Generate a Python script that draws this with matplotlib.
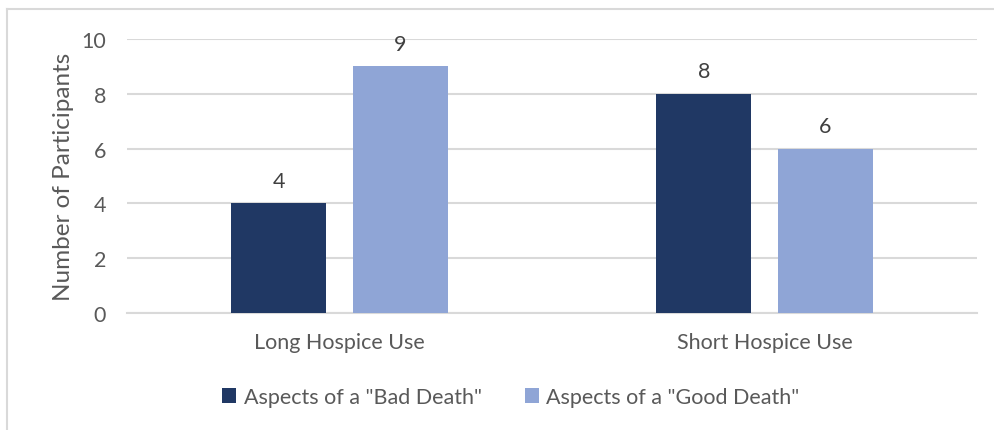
import numpy as np
import matplotlib.pyplot as plt
from matplotlib.lines import Line2D
from matplotlib.patches import Patch

categories = ["Long Hospice Use", "Short Hospice Use"]
series_names = ['Aspects of a "Bad Death"', 'Aspects of a "Good Death"']
bad_death = [4, 8]
good_death = [9, 6]
y_ticks = [0, 2, 4, 6, 8, 10]

dark = "#203864"
light = "#8FA5D6"
txt = "#595959"
grid = "#D9D9D9"

plt.rcParams['font.family'] = ['Lato', 'DejaVu Sans']
fs = 15.5

W, H = 995, 431
fig = plt.figure(figsize=(W / 100, H / 100), dpi=100)
ax = fig.add_axes([127 / W, 1 - 314 / H, 850 / W, 274 / H])

xs = np.arange(len(categories))
bw = 0.2235
off = 0.1424
b1 = ax.bar(xs - off, bad_death, bw, color=dark, zorder=3)
b2 = ax.bar(xs + off, good_death, bw, color=light, zorder=3)

for bars, vals in ((b1, bad_death), (b2, good_death)):
    for b, v in zip(bars, vals):
        ax.annotate(str(v), (b.get_x() + b.get_width() / 2, v),
                    xytext=(0, 9), textcoords="offset points",
                    ha="center", va="bottom", fontsize=fs, color="#404040")

ax.set_xlim(-0.5, 1.5)
ax.set_ylim(0, 10)
ax.set_yticks(y_ticks)
ax.set_xticks(xs)
ax.set_xticklabels(categories)
ax.yaxis.grid(True, color=grid, lw=1.5, zorder=0)
ax.tick_params(axis="both", length=0, labelsize=fs, colors=txt)
ax.tick_params(axis="x", pad=14)
ax.tick_params(axis="y", pad=15)
for s in ("top", "right", "left"):
    ax.spines[s].set_visible(False)
ax.spines["bottom"].set_color(grid)
ax.spines["bottom"].set_linewidth(1.5)
ax.set_ylabel("Number of Participants", fontsize=17.5, color=txt, labelpad=5)

handles = [Patch(facecolor=dark), Patch(facecolor=light)]
fig.legend(handles, series_names, loc="center", bbox_to_anchor=(511 / W, 1 - 398 / H),
           ncol=2, frameon=False, fontsize=fs, labelcolor=txt,
           handlelength=0.65, handleheight=0.65, handletextpad=0.35, columnspacing=2.0)

# chart frame, top and left edges
fig.add_artist(Line2D([7 / W, 1], [1 - 10 / H, 1 - 10 / H], color=grid, lw=1.5))
fig.add_artist(Line2D([7 / W, 7 / W], [0, 1 - 10 / H], color=grid, lw=1.5))

fig.savefig("out.png", dpi=100)
